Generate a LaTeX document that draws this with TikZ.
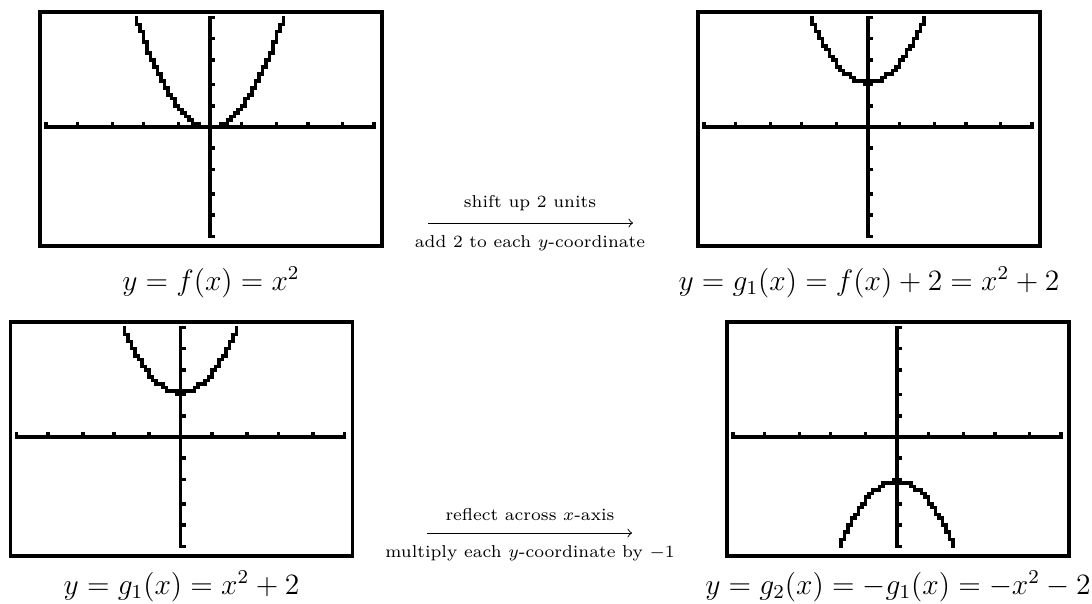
\documentclass[tikz,border=0pt]{standalone}
\tikzset{
  screenbox/.style={draw, line width=1.6pt, inner sep=0pt, outer sep=0pt,
    minimum width={342*0.4065pt}, minimum height={234*0.4065pt}},
  captext/.style={font=\large, inner sep=0pt},
  lbltext/.style={font=\scriptsize, inner sep=0pt},
  arrline/.style={->, line width=0.4pt},
}
\newcommand\tiscreen[3]{%
  \begin{scope}[shift={(#1.center)}]
  \begin{scope}[shift={(-165,-111.5)}, x=1.4187pt, y=-1.435pt]
    \fill (-0.5,30.5) rectangle (94.5,31.5);
    \fill (46.5,-0.5) rectangle (47.5,62.5);
    \foreach \cc in {0,9,19,28,38,56,66,75,85,94}
      \fill (\cc-0.5,29.5) rectangle (\cc+0.5,30.5);
    \foreach \rr in {0,6,12,19,25,37,43,50,56,62}
      \fill (47.5,\rr-0.5) rectangle (48.5,\rr+0.5);
    \foreach \c in {0,...,94}{
      \pgfmathsetmacro\xa{-5+(\c-0.5)*10/94}
      \pgfmathsetmacro\xb{-5+\c*10/94}
      \pgfmathsetmacro\xc{-5+(\c+0.5)*10/94}
      \pgfmathsetmacro\ra{(5-((#2)*(\xa)*(\xa)+(#3)))*6.2}
      \pgfmathsetmacro\rb{(5-((#2)*(\xb)*(\xb)+(#3)))*6.2}
      \pgfmathsetmacro\rc{(5-((#2)*(\xc)*(\xc)+(#3)))*6.2}
      \pgfmathsetmacro\rt{max(round(min(\ra,\rb,\rc)),0)}
      \pgfmathsetmacro\rd{min(round(max(\ra,\rb,\rc)),62)}
      \ifdim\rt pt>\rd pt\relax\else
        \fill (\c-0.5,\rt-0.5) rectangle (\c+0.5,\rd+0.5);
      \fi
    }
  \end{scope}
  \end{scope}}
\begin{document}
\begin{tikzpicture}[x=0.4065pt, y=-0.4065pt]
  \useasboundingbox (0,0) rectangle (1092,603);
  % screens
  \node[screenbox] (b1) at (211,129) {};
  \node[screenbox] (b2) at (869,129) {};
  \node[screenbox] (b3) at (181.5,439) {};
  \node[screenbox] (b4) at (898,439) {};
  \tiscreen{b1}{1}{0}
  \tiscreen{b2}{1}{2}
  \tiscreen{b3}{1}{2}
  \tiscreen{b4}{-1}{-2}
  % captions
  \node[captext] (c1) at (211,282) {$y=f(x)=x^2$};
  \node[captext] (c2) at (869,282) {$y=g_1(x)=f(x)+2=x^2+2$};
  \node[captext] (c3) at (181.5,586) {$y=g_1(x)=x^2+2$};
  \node[captext] (c4) at (898,586) {$y=g_2(x)=-g_1(x)=-x^2-2$};
  % arrows
  \coordinate (a1s) at (428,223);
  \coordinate (a1e) at (633,223);
  \coordinate (a2s) at (427,533);
  \coordinate (a2e) at (632,533);
  \draw[arrline] (a1s) -- (a1e);
  \draw[arrline] (a2s) -- (a2e);
  \node[lbltext] (l1) at (530,203) {shift up 2 units};
  \node[lbltext] (l2) at (530,243) {add 2 to each $y$-coordinate};
  \node[lbltext] (l3) at (530,515) {reflect across $x$-axis};
  \node[lbltext] (l4) at (530,553) {multiply each $y$-coordinate by $-1$};
\end{tikzpicture}
\end{document}
